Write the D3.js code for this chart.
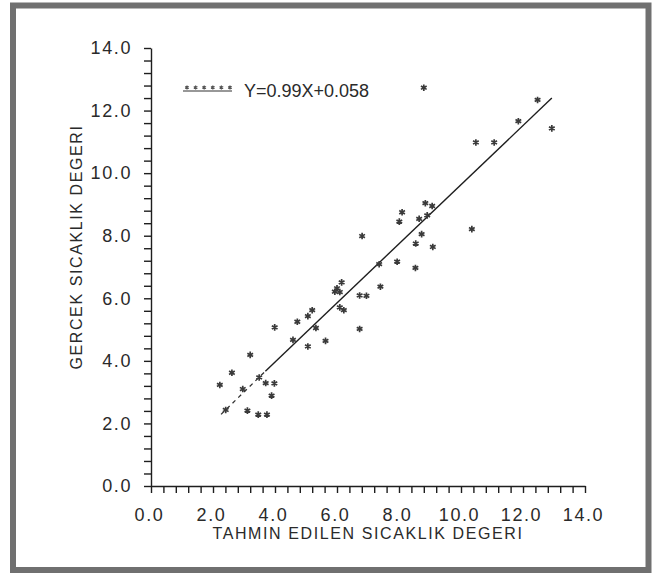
<!DOCTYPE html>
<html>
<head>
<meta charset="utf-8">
<script src="https://cdn.jsdelivr.net/npm/d3@7"></script>
<style>
  body { margin: 0; background: #fff; }
  svg text { font-family: "Liberation Sans", Arial, sans-serif; fill: #2a2a2a; }
</style>
</head>
<body>
<div id="chart"></div>
<script>
var svgWidth = 655;
var svgHeight = 574;

const predicted = [3.99, 4.72, 5.06, 5.20, 5.32, 4.58, 5.06, 3.20, 2.61, 2.22,
  2.96, 3.49, 3.70, 3.98, 3.89, 2.41, 3.11, 3.46, 3.74, 7.36,
  7.94, 8.53, 6.15, 6.00, 5.93, 6.09, 6.73, 6.95, 7.40, 6.09,
  6.22, 5.63, 6.73, 8.85, 9.07, 8.10, 8.01, 8.65, 8.91, 10.35,
  8.73, 8.54, 9.09, 12.47, 11.85, 12.93, 10.48, 11.07, 8.80, 6.81];
const measured = [5.07, 5.25, 5.43, 5.62, 5.05, 4.67, 4.46, 4.19, 3.62, 3.23,
  3.10, 3.47, 3.29, 3.28, 2.89, 2.43, 2.41, 2.28, 2.28, 7.09,
  7.17, 6.97, 6.51, 6.32, 6.21, 6.20, 6.09, 6.08, 6.37, 5.71,
  5.62, 4.64, 5.02, 9.04, 8.95, 8.75, 8.45, 8.54, 8.65, 8.21,
  8.05, 7.75, 7.64, 12.34, 11.66, 11.43, 10.98, 10.98, 12.73, 7.99];

// fitted line as drawn on the scan (faint dashed start, then solid)
const fitDashed = [[2.26, 2.29], [3.69, 3.67]];
const fitSolid = [[3.69, 3.67], [12.93, 12.40]];
const fitLabel = "Y=0.99X+0.058";

const tickValues = d3.range(0, 35.01, 1).map(i => +(i * 0.4).toFixed(1));
const labelValues = [0, 2, 4, 6, 8, 10, 12, 14];

const svg = d3.select("#chart")
  .append("svg")
  .attr("width", svgWidth)
  .attr("height", svgHeight);

// scanned page frame
svg.append("rect")
  .attr("x", 13).attr("y", 5.5)
  .attr("width", 635.5).attr("height", 564.5)
  .attr("fill", "none")
  .attr("stroke", "#707070")
  .attr("stroke-width", 6);

const xScale = d3.scaleLinear().domain([0, 14]).range([151, 585]);
const yScale = d3.scaleLinear().domain([0, 14]).range([486, 48]);

const tickFmt = d => labelValues.includes(d) ? d.toFixed(1) : "";

const xAxis = svg.append("g")
  .attr("transform", `translate(0, ${yScale(0)})`)
  .call(d3.axisBottom(xScale).tickValues(tickValues).tickFormat(tickFmt)
    .tickSize(7).tickSizeOuter(0).tickPadding(15));

const yAxis = svg.append("g")
  .attr("transform", `translate(${xScale(0)}, 0)`)
  .call(d3.axisLeft(yScale).tickValues(tickValues).tickFormat(tickFmt)
    .tickSize(7).tickSizeOuter(0).tickPadding(12));

svg.selectAll(".domain, .tick line")
  .attr("stroke", "#1e1e1e")
  .attr("stroke-width", 1.4);

svg.selectAll(".tick text")
  .attr("font-size", 18)
  .attr("letter-spacing", 1.6)
  .attr("fill", "#3a3a3a");

xAxis.selectAll(".tick text").attr("dx", -2);

// axis titles
svg.append("text")
  .attr("x", 368)
  .attr("y", 539)
  .attr("text-anchor", "middle")
  .attr("font-size", 16)
  .attr("letter-spacing", 1.6)
  .text("TAHMIN EDILEN SICAKLIK DEGERI");

svg.append("text")
  .attr("transform", "translate(82, 247) rotate(-90)")
  .attr("text-anchor", "middle")
  .attr("font-size", 16)
  .attr("letter-spacing", 1.6)
  .text("GERCEK SICAKLIK DEGERI");

// regression line
const line = d3.line().x(d => xScale(d[0])).y(d => yScale(d[1]));

svg.append("path")
  .datum(fitDashed)
  .attr("d", line)
  .attr("fill", "none")
  .attr("stroke", "#333")
  .attr("stroke-width", 1.3)
  .attr("stroke-dasharray", "4,4");

svg.append("path")
  .datum(fitSolid)
  .attr("d", line)
  .attr("fill", "none")
  .attr("stroke", "#1e1e1e")
  .attr("stroke-width", 1.4);

// data points
const marker = d3.symbol().type(d3.symbolAsterisk).size(30);

svg.append("g")
  .selectAll("path")
  .data(predicted.map((p, i) => [p, measured[i]]))
  .enter()
  .append("path")
  .attr("transform", d => `translate(${xScale(d[0])}, ${yScale(d[1])})`)
  .attr("d", marker)
  .attr("fill", "none")
  .attr("stroke", "#3a3a3a")
  .attr("stroke-width", 1.7);

// legend
const legend = svg.append("g");

legend.append("line")
  .attr("x1", 183).attr("x2", 232)
  .attr("y1", 91).attr("y2", 91)
  .attr("stroke", "#333")
  .attr("stroke-width", 1.2);

legend.selectAll("path")
  .data(d3.range(6))
  .enter()
  .append("path")
  .attr("transform", i => `translate(${187 + i * 8.6}, 87.5)`)
  .attr("d", d3.symbol().type(d3.symbolAsterisk).size(12))
  .attr("fill", "none")
  .attr("stroke", "#555")
  .attr("stroke-width", 1.2);

legend.append("text")
  .attr("x", 244)
  .attr("y", 97)
  .attr("font-size", 18)
  .text(fitLabel);
</script>
</body>
</html>
